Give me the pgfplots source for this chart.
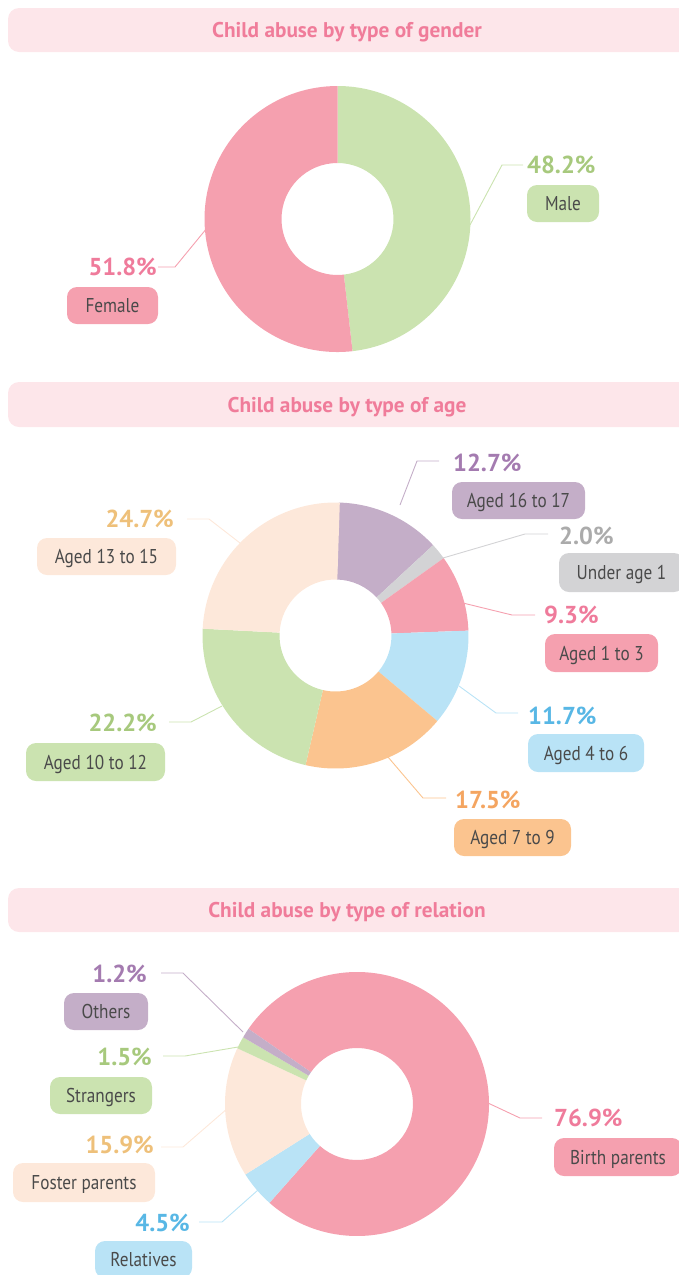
\documentclass[border=0pt]{standalone}
\usepackage{pgfplots}
\pgfplotsset{compat=1.18}
\usepackage{fontspec}
\setmainfont{PT Sans}
\newfontfamily\lblfont{PT Sans}[FakeStretch=0.86]
\definecolor{cband}{HTML}{FDE6EA}
\definecolor{ctitle}{HTML}{F07C9A}
\definecolor{clabel}{HTML}{4A4A4A}
\definecolor{cpink}{HTML}{F5A0AF}
\definecolor{cgreen}{HTML}{CBE3B0}
\definecolor{cpurple}{HTML}{C4AEC8}
\definecolor{cgrey}{HTML}{D3D3D5}
\definecolor{cblue}{HTML}{B9E3F6}
\definecolor{corange}{HTML}{FBC48F}
\definecolor{cpeach}{HTML}{FDE8DA}
\definecolor{tpink}{HTML}{EF7B9B}
\definecolor{tgreen}{HTML}{A7C97D}
\definecolor{tpurple}{HTML}{A47BB0}
\definecolor{tgrey}{HTML}{ABABAB}
\definecolor{tblue}{HTML}{58B7E5}
\definecolor{torange}{HTML}{F4A561}
\definecolor{tpeach}{HTML}{EEC07A}

% donut: cx, cy, start angle, outer r, inner r, list value/colour (clockwise)
\newcommand\donut[6]{%
  \xdef\curang{#3}%
  \foreach \v/\col in {#6}{%
    \pgfmathsetmacro\angA{\curang}%
    \pgfmathsetmacro\angB{\curang-3.6*\v}%
    \pgfmathsetmacro\xA{#1+#4*cos(\angA)}%
    \pgfmathsetmacro\yA{#2-#4*sin(\angA)}%
    \pgfmathsetmacro\xB{#1+#5*cos(\angB)}%
    \pgfmathsetmacro\yB{#2-#5*sin(\angB)}%
    \edef\temp{\noexpand\fill[\col] (axis cs:\xA,\yA) arc[start angle=\angA,end angle=\angB,radius=#4pt] -- (axis cs:\xB,\yB) arc[start angle=\angB,end angle=\angA,radius=#5pt] -- cycle;}%
    \temp
    \xdef\curang{\angB}%
  }%
}
\newcommand\banner[3]{%
  \fill[cband, rounded corners=11pt] (axis cs:8,#1) rectangle (axis cs:700,#2);
  \node[ctitle, inner sep=0pt, text height=15pt, text depth=0pt, font=\fontsize{21.3}{25}\selectfont\bfseries] at (axis cs:347,{(#1+#2)/2}) {#3};
}
\newcommand\pct[5]{\node[#1, anchor=#2, inner sep=0pt, text height=17pt, text depth=0pt, font=\fontsize{24.5}{28}\selectfont\bfseries] at (axis cs:#3,#4) {#5};}
\newcommand\lbox[6]{%
  \fill[#5, rounded corners=10pt] (axis cs:#1,#2) rectangle (axis cs:#3,#4);
  \node[clabel, inner sep=0pt, text height=14pt, text depth=0pt, font=\fontsize{20}{24}\selectfont\lblfont] at (axis cs:{(#1+#3)/2},{(#2+#4)/2}) {#6};
}

\begin{document}
\begin{tikzpicture}
\begin{axis}[
  scale only axis, width=679pt, height=1275pt,
  xmin=0, xmax=679, ymin=0, ymax=1275, y dir=reverse,
  hide axis, clip=false]

% ---------- gender ----------
\banner{8}{52}{Child abuse by type of gender}
\donut{337.5}{219}{90}{133}{56}{48.2/cgreen, 51.8/cpink}
\draw[cgreen, line width=0.9pt] (axis cs:470,225) -- (axis cs:502,165) -- (axis cs:523,165);
\pct{tgreen}{west}{527}{165}{48.2\%}
\lbox{527}{185}{599}{222}{cgreen}{Male}
\draw[cpink, line width=0.9pt] (axis cs:207,228) -- (axis cs:175,267) -- (axis cs:158,267);
\pct{tpink}{east}{157}{267}{51.8\%}
\lbox{67}{287}{158}{324}{cpink}{Female}

% ---------- age ----------
\banner{382}{427}{Child abuse by type of age}
\donut{335.5}{635.5}{88.5}{133}{56}{12.7/cpurple, 2.0/cgrey, 9.3/cpink, 11.7/cblue, 17.5/corange, 22.2/cgreen, 24.7/cpeach}
\draw[cpurple, line width=0.9pt] (axis cs:400,505) -- (axis cs:417,461) -- (axis cs:439,461);
\pct{tpurple}{west}{453}{463}{12.7\%}
\lbox{452}{482}{585}{519}{cpurple}{Aged 16 to 17}
\draw[cgrey, line width=0.9pt] (axis cs:443,558) -- (axis cs:525,534) -- (axis cs:548,534);
\pct{tgrey}{west}{559}{536}{2.0\%}
\lbox{559}{553}{684}{592}{cgrey}{Under age 1}
\draw[cpink, line width=0.9pt] (axis cs:463,603) -- (axis cs:512,615) -- (axis cs:535,615);
\pct{tpink}{west}{544}{615}{9.3\%}
\lbox{545}{634}{658}{672}{cpink}{Aged 1 to 3}
\draw[cblue, line width=0.9pt] (axis cs:459,686) -- (axis cs:496,713) -- (axis cs:518,713);
\pct{tblue}{west}{528}{716}{11.7\%}
\lbox{528}{734}{644}{772}{cblue}{Aged 4 to 6}
\draw[corange, line width=0.9pt] (axis cs:388,757) -- (axis cs:423,798) -- (axis cs:446,798);
\pct{torange}{west}{455}{800}{17.5\%}
\lbox{454}{819}{571}{856}{corange}{Aged 7 to 9}
\draw[cgreen, line width=0.9pt] (axis cs:222,706) -- (axis cs:191,722) -- (axis cs:169,722);
\pct{tgreen}{east}{157}{723}{22.2\%}
\lbox{26}{743}{165}{781}{cgreen}{Aged 10 to 12}
\draw[cpeach, line width=0.9pt] (axis cs:240,543) -- (axis cs:209,519) -- (axis cs:187,519);
\pct{tpeach}{east}{174}{519}{24.7\%}
\lbox{37}{538}{176}{575}{cpeach}{Aged 13 to 15}

% ---------- relation ----------
\banner{888}{932}{Child abuse by type of relation}
\donut{357}{1104}{145.3}{132}{56}{76.9/cpink, 4.5/cblue, 15.9/cpeach, 1.5/cgreen, 1.2/cpurple}
\draw[cpurple, line width=0.9pt] (axis cs:243,1032) -- (axis cs:183,973) -- (axis cs:161,973);
\pct{tpurple}{east}{147}{974}{1.2\%}
\lbox{64}{993}{148}{1030}{cpurple}{Others}
\draw[cgreen, line width=0.9pt] (axis cs:238,1047) -- (axis cs:185,1056) -- (axis cs:163,1056);
\pct{tgreen}{east}{152}{1057}{1.5\%}
\lbox{50}{1077}{152}{1114}{cgreen}{Strangers}
\draw[cpeach, line width=0.9pt] (axis cs:228,1108) -- (axis cs:183,1147) -- (axis cs:161,1147);
\pct{tpeach}{east}{154}{1145}{15.9\%}
\lbox{13}{1163}{155}{1202}{cpeach}{Foster parents}
\draw[cblue, line width=0.9pt] (axis cs:258,1190) -- (axis cs:222,1222) -- (axis cs:199,1222);
\pct{tblue}{east}{190}{1223}{4.5\%}
\lbox{95}{1241}{192}{1278}{cblue}{Relatives}
\draw[cpink, line width=0.9pt] (axis cs:488,1103) -- (axis cs:520,1118) -- (axis cs:542,1118);
\pct{tpink}{west}{554}{1118}{76.9\%}
\lbox{554}{1138}{682}{1176}{cpink}{Birth parents}
\end{axis}
\pgfresetboundingbox
\path (current axis.south west) rectangle (current axis.north east);
\end{tikzpicture}
\end{document}
